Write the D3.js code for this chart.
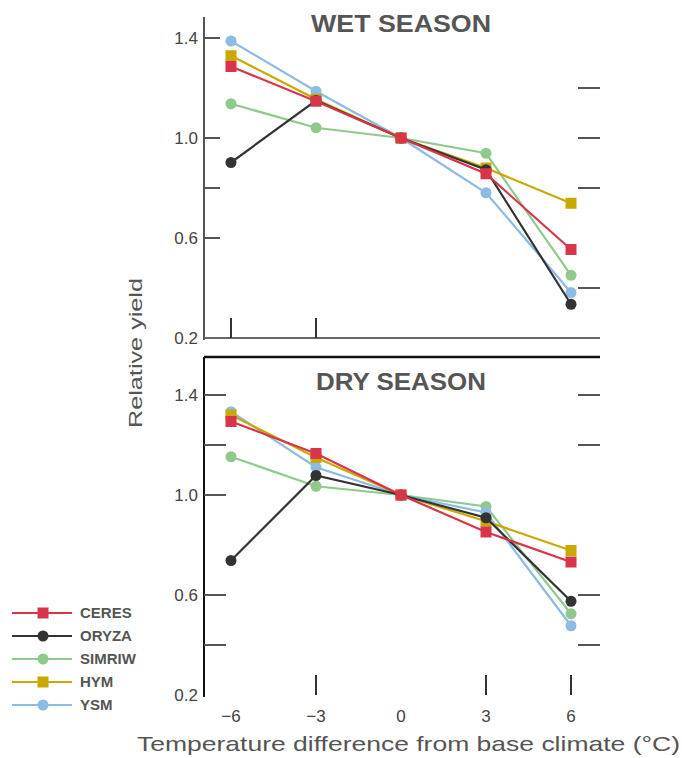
<!DOCTYPE html>
<html><head><meta charset="utf-8">
<script src="https://cdn.jsdelivr.net/npm/d3@7"></script>
<style>body{margin:0;background:#fff}svg{display:block}text{font-family:"Liberation Sans",Arial,sans-serif}</style>
</head><body>
<script>
const xValues = [-6, -3, 0, 3, 6];
const xTickLabels = ["\u22126", "\u22123", "0", "3", "6"];
const yTickValues = [1.4, 1.0, 0.6, 0.2];
const yTickLabels = ["1.4", "1.0", "0.6", "0.2"];
const models = ["CERES", "ORYZA", "SIMRIW", "HYM", "YSM"];
const colors = {CERES:"#d8344a", ORYZA:"#333333", SIMRIW:"#8fca8c", HYM:"#c9a800", YSM:"#8cbbe6"};
const shapes = {CERES:"square", ORYZA:"circle", SIMRIW:"circle", HYM:"square", YSM:"circle"};
// Wet season relative yields
const wetCERES  = [1.286, 1.147, 1.0, 0.857, 0.554];
const wetORYZA  = [0.902, 1.150, 1.0, 0.873, 0.335];
const wetSIMRIW = [1.137, 1.041, 1.0, 0.939, 0.451];
const wetHYM    = [1.329, 1.155, 1.0, 0.880, 0.739];
const wetYSM    = [1.388, 1.187, 1.0, 0.781, 0.382];
// Dry season relative yields
const dryCERES  = [1.294, 1.166, 1.0, 0.852, 0.732];
const dryORYZA  = [0.738, 1.078, 1.0, 0.909, 0.575];
const drySIMRIW = [1.153, 1.035, 1.0, 0.954, 0.525];
const dryHYM    = [1.320, 1.150, 1.0, 0.895, 0.778];
const dryYSM    = [1.333, 1.111, 1.0, 0.930, 0.477];
// Tick sets per panel (as printed)
const wetLeftTicks = [1.4, 1.0, 0.8, 0.6];
const wetRightTicks = [1.2, 1.0, 0.8, 0.4];
const wetXTicks = [-6, -3];
const dryLeftTicks = [1.4, 1.2, 1.0, 0.6, 0.4];
const dryRightTicks = [1.4, 1.2, 0.6, 0.4];
const dryXTicks = [-3, 3, 6];

const wet = {CERES:wetCERES, ORYZA:wetORYZA, SIMRIW:wetSIMRIW, HYM:wetHYM, YSM:wetYSM};
const dry = {CERES:dryCERES, ORYZA:dryORYZA, SIMRIW:drySIMRIW, HYM:dryHYM, YSM:dryYSM};
const drawOrder = ["SIMRIW", "YSM", "HYM", "ORYZA", "CERES"];

const W = 682, H = 758;
const svg = d3.select("body").append("svg").attr("width", W).attr("height", H);
const left = 204, right = 600;
const x = d3.scaleLinear().domain([-6, 6]).range([231, 571]);
const textCol = "#444";

function panel(cfg) {
  const y = d3.scaleLinear().domain([0.2, 1.0]).range([cfg.bottom, cfg.bottom - 200]);
  const g = svg.append("g");
  g.append("line").attr("x1", left).attr("x2", left).attr("y1", cfg.top).attr("y2", cfg.bottom + 2)
    .attr("stroke", cfg.axisCol).attr("stroke-width", 2);
  if (cfg.bottomLine) g.append("line").attr("x1", left).attr("x2", right).attr("y1", cfg.bottom).attr("y2", cfg.bottom)
    .attr("stroke", "#666").attr("stroke-width", 2);
  if (cfg.topLine) g.append("line").attr("x1", left).attr("x2", right).attr("y1", cfg.top).attr("y2", cfg.top)
    .attr("stroke", "#111").attr("stroke-width", 2.5);
  g.selectAll(".lt").data(cfg.leftTicks).join("line")
    .attr("x1", left).attr("x2", left + cfg.tickLen).attr("y1", d => y(d)).attr("y2", d => y(d))
    .attr("stroke", "#555").attr("stroke-width", 2);
  g.selectAll(".rt").data(cfg.rightTicks).join("line")
    .attr("x1", right - 22).attr("x2", right).attr("y1", d => y(d)).attr("y2", d => y(d))
    .attr("stroke", "#555").attr("stroke-width", 2);
  g.selectAll(".xt").data(cfg.xTicks).join("line")
    .attr("x1", d => x(d)).attr("x2", d => x(d)).attr("y1", cfg.bottom - 20).attr("y2", cfg.bottom)
    .attr("stroke", "#333").attr("stroke-width", 2);
  g.selectAll(".yl").data(yTickValues).join("text")
    .attr("x", 198).attr("y", d => y(d)).attr("dy", "0.35em").attr("text-anchor", "end")
    .attr("font-size", 17).attr("fill", textCol).text((d, i) => yTickLabels[i]);
  g.append("text").attr("x", 401).attr("y", cfg.titleY).attr("text-anchor", "middle")
    .attr("font-size", 23).attr("font-weight", "bold").attr("fill", "#555")
    .attr("textLength", cfg.titleLen).attr("lengthAdjust", "spacingAndGlyphs").text(cfg.title);
  const line = d3.line().x((d, i) => x(xValues[i])).y(d => y(d));
  drawOrder.forEach(m => {
    const vals = cfg.data[m];
    g.append("path").attr("d", line(vals)).attr("fill", "none")
      .attr("stroke", colors[m]).attr("stroke-width", 2.2);
    vals.forEach((v, i) => {
      if (shapes[m] === "square") {
        g.append("rect").attr("x", x(xValues[i]) - 5.5).attr("y", y(v) - 5.5)
          .attr("width", 11).attr("height", 11).attr("fill", colors[m]);
      } else {
        g.append("circle").attr("cx", x(xValues[i])).attr("cy", y(v)).attr("r", 5.5).attr("fill", colors[m]);
      }
    });
  });
}

panel({top: 17, bottom: 338, data: wet, title: "WET SEASON", titleY: 32, titleLen: 180,
  leftTicks: wetLeftTicks, rightTicks: wetRightTicks, xTicks: wetXTicks, tickLen: 16,
  axisCol: "#555", bottomLine: true, topLine: false});
panel({top: 357, bottom: 695, data: dry, title: "DRY SEASON", titleY: 390, titleLen: 170,
  leftTicks: dryLeftTicks, rightTicks: dryRightTicks, xTicks: dryXTicks, tickLen: 22,
  axisCol: "#111", bottomLine: false, topLine: true});

svg.selectAll(".xl").data(xValues).join("text")
  .attr("x", d => x(d)).attr("y", 722).attr("text-anchor", "middle")
  .attr("font-size", 17).attr("fill", textCol).text((d, i) => xTickLabels[i]);

svg.append("text").attr("x", 137).attr("y", 751).attr("font-size", 21).attr("fill", "#555")
  .attr("textLength", 543).attr("lengthAdjust", "spacingAndGlyphs")
  .text("Temperature difference from base climate (\u00B0C)");
svg.append("text").attr("transform", "translate(142,353) rotate(-90)").attr("text-anchor", "middle")
  .attr("font-size", 19).attr("fill", "#555").attr("textLength", 150).attr("lengthAdjust", "spacingAndGlyphs")
  .text("Relative yield");

const legY = d3.scalePoint().domain(models).range([613, 705]);
const lg = svg.append("g");
models.forEach(m => {
  const yy = legY(m);
  lg.append("line").attr("x1", 12).attr("x2", 72).attr("y1", yy).attr("y2", yy)
    .attr("stroke", colors[m]).attr("stroke-width", 2.2);
  if (shapes[m] === "square") lg.append("rect").attr("x", 43 - 5.5).attr("y", yy - 5.5).attr("width", 11).attr("height", 11).attr("fill", colors[m]);
  else lg.append("circle").attr("cx", 43).attr("cy", yy).attr("r", 5.5).attr("fill", colors[m]);
  lg.append("text").attr("x", 80).attr("y", yy).attr("dy", "0.35em").attr("font-size", 15)
    .attr("font-weight", "bold").attr("fill", "#555").text(m);
});
</script>
</body></html>
